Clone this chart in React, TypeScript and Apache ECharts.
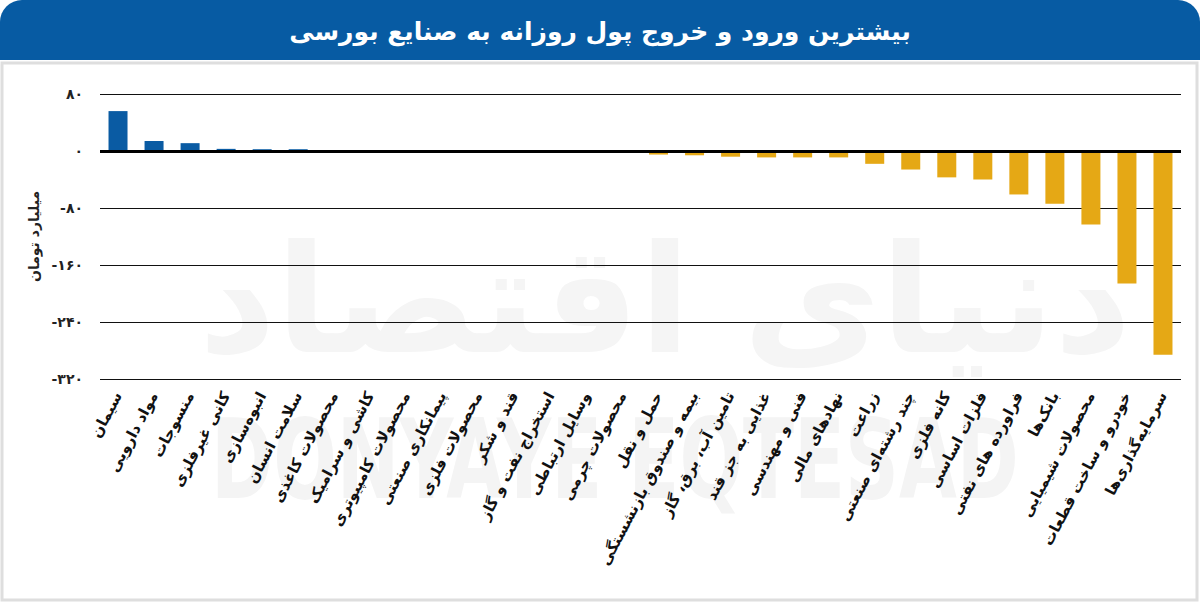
import React, { useEffect, useRef } from "react";
import * as echarts from "echarts";

const title = "بیشترین ورود و خروج پول روزانه به صنایع بورسی";
const yAxisName = "میلیارد تومان";

const categories = [
  "سیمان",
  "مواد دارویی",
  "منسوجات",
  "کانی غیرفلزی",
  "انبوه‌سازی",
  "سلامت انسان",
  "محصولات کاغذی",
  "کاشی و سرامیک",
  "محصولات کامپیوتری",
  "پیمانکاری صنعتی",
  "محصولات فلزی",
  "قند و شکر",
  "استخراج نفت و گاز",
  "وسایل ارتباطی",
  "محصولات چرمی",
  "حمل و نقل",
  "بیمه و صندوق بازنشستگی",
  "تامین آب، برق، گاز",
  "غذایی به جز قند",
  "فنی و مهندسی",
  "نهادهای مالی",
  "زراعت",
  "چند رشته‌ای صنعتی",
  "کانه فلزی",
  "فلزات اساسی",
  "فراورده های نفتی",
  "بانک‌ها",
  "محصولات شیمیایی",
  "خودرو و ساخت قطعات",
  "سرمایه‌گذاری‌ها",
];

const values = [
  56, 14, 11, 3, 2.5, 2.5, 0, 0, 0, 0, 0, 0, 0, 0, 0,
  -5, -6, -8, -9, -9, -9, -18, -26, -37, -40, -61, -74, -103, -186, -286,
];

const yMin = -320;
const yMax = 80;
const yStep = 80;

const BLUE = "#0a5ba3";
const ORANGE = "#e5a815";
const FONT = "DejaVu Sans";

const faDigits = "۰۱۲۳۴۵۶۷۸۹";
const toFa = (s: string) => s.replace(/\d/g, (d) => faDigits[Number(d)]);

export default function App() {
  const ref = useRef<HTMLDivElement>(null);

  useEffect(() => {
    if (!ref.current) return;
    const chart = echarts.init(ref.current, undefined, { renderer: "svg" });
    chart.setOption({
      animation: false,
      backgroundColor: "#ffffff",
      graphic: [
        {
          type: "rect",
          z: 0,
          shape: { x: 0, y: 0, width: 1200, height: 60, r: [22, 22, 0, 0] },
          style: { fill: "#075ba3" },
        },
        {
          type: "rect",
          z: 0,
          shape: { x: 2, y: 63, width: 1195, height: 537 },
          style: { fill: "none", stroke: "#dedede", lineWidth: 3 },
        },
        {
          type: "text",
          z: 0,
          x: 615,
          y: 405,
          scaleX: 0.68,
          style: {
            text: "DONYAYE EQTESAD",
            fill: "#f4f4f4",
            font: "bold 110px 'DejaVu Sans'",
            textAlign: "center",
            textVerticalAlign: "top",
          },
        },
        {
          type: "text",
          z: 0,
          x: 665,
          y: 300,
          style: {
            text: "دنیای اقتصاد",
            fill: "#f5f5f5",
            font: "bold 150px 'DejaVu Sans'",
            textAlign: "center",
            textVerticalAlign: "middle",
          },
        },
        {
          type: "text",
          z: 10,
          x: 600,
          y: 31,
          style: {
            text: title,
            fill: "#ffffff",
            font: "bold 25px 'DejaVu Sans'",
            textAlign: "center",
            textVerticalAlign: "middle",
          },
        },
      ],
      grid: { left: 100, right: 19, top: 94, bottom: 224 },
      xAxis: {
        type: "category",
        data: categories,
        axisLine: { show: false },
        axisTick: { show: false },
        axisLabel: {
          interval: 0,
          rotate: 62,
          margin: 14,
          color: "#111",
          fontFamily: FONT,
          fontWeight: "bold",
          fontSize: 15,
        },
      },
      yAxis: {
        type: "value",
        min: yMin,
        max: yMax,
        interval: yStep,
        name: yAxisName,
        nameLocation: "middle",
        nameGap: 59,
        nameRotate: 90,
        nameTextStyle: {
          color: "#222",
          fontFamily: FONT,
          fontWeight: "bold",
          fontSize: 14,
        },
        axisLine: { show: false },
        axisTick: { show: false },
        axisLabel: {
          margin: 17,
          color: "#222",
          fontFamily: FONT,
          fontWeight: "bold",
          fontSize: 14,
          formatter: (v: number) => toFa(String(v)),
        },
        splitLine: { lineStyle: { color: "#111", width: 1 } },
      },
      series: [
        {
          type: "bar",
          barWidth: 19,
          data: values.map((v) => ({
            value: v,
            itemStyle: { color: v >= 0 ? BLUE : ORANGE },
          })),
          markLine: {
            silent: true,
            symbol: "none",
            label: { show: false },
            lineStyle: { color: "#000", width: 3, type: "solid" },
            data: [{ yAxis: 0 }],
          },
        },
      ],
    });
    return () => chart.dispose();
  }, []);

  return (
    <div
      ref={ref}
      style={{ position: "fixed", left: 0, top: 0, width: 1200, height: 603 }}
    />
  );
}
